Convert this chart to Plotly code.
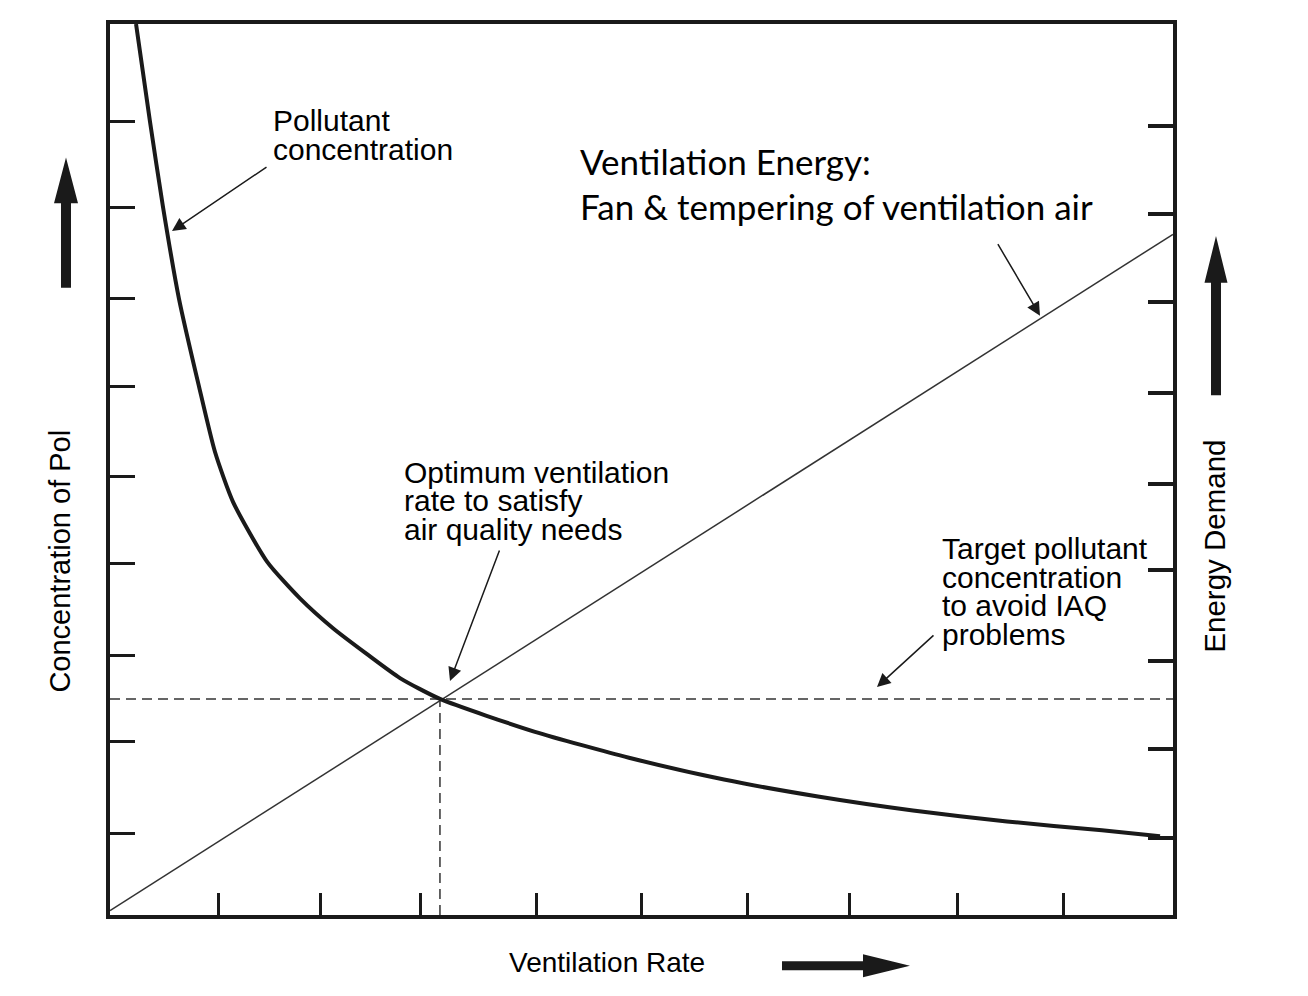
import plotly.graph_objects as go

# curve values (x: ventilation rate, y: level), axes run 0..10
pollutant_x = [0.245, 0.376, 0.499, 0.649, 0.837, 0.988, 1.157, 1.477, 1.787, 2.098, 2.418,
               2.728, 3.104, 3.998, 4.882, 5.776, 6.660, 7.554, 8.438, 9.332, 9.878]
pollutant_y = [10.0, 8.905, 7.944, 6.916, 5.933, 5.196, 4.637, 3.966, 3.553, 3.218, 2.927,
               2.659, 2.425, 2.056, 1.765, 1.520, 1.330, 1.173, 1.050, 0.950, 0.883]
energy_x = [0.0, 10.0]
energy_y = [0.05, 7.64]
optimum_x = 3.104
target_y = 2.425

bottom_ticks = [1.02, 1.98, 2.92, 4.01, 5.0, 6.0, 6.96, 7.97, 8.97]
left_ticks = [0.916, 1.944, 2.916, 3.944, 4.916, 5.933, 6.916, 7.944, 8.905]
right_ticks = [0.86, 1.866, 2.849, 3.877, 4.838, 5.855, 6.883, 7.866, 8.86]

# page coords of the plot frame; the html body adds an 8px offset
OFF = 8
W, H = 1292, 980
L, R, T, B = 110, 1173, 20, 915
INK = "#1a1a1a"
FONT = "Liberation Sans, Arial, sans-serif"


def px(x):
    return (x - L) / (R - L)


def py(y):
    return (B - y) / (B - T)


fig = go.Figure()

fig.add_trace(go.Scatter(x=energy_x, y=energy_y, mode="lines",
                         line=dict(color="#333333", width=1.5), hoverinfo="skip"))
fig.add_trace(go.Scatter(x=[0, 10], y=[target_y, target_y], mode="lines",
                         line=dict(color="#333333", width=1.5, dash="10px,6px"), hoverinfo="skip"))
fig.add_trace(go.Scatter(x=[optimum_x, optimum_x], y=[0, target_y], mode="lines",
                         line=dict(color="#333333", width=1.5, dash="10px,6px"), hoverinfo="skip"))
fig.add_trace(go.Scatter(x=pollutant_x, y=pollutant_y, mode="lines",
                         line=dict(color=INK, width=4, shape="spline", smoothing=0.6),
                         hoverinfo="skip"))
# dummy trace so the right axis is drawn
fig.add_trace(go.Scatter(x=[0], y=[0], yaxis="y2", mode="markers",
                         marker=dict(opacity=0), hoverinfo="skip"))

# text labels, one per line to keep the tight leading of the original
labels = [
    ("Pollutant", 271, 117, 30, FONT),
    ("concentration", 271, 146, 30, FONT),
    ("Optimum ventilation", 402, 471, 30, FONT),
    ("rate to satisfy", 402, 499, 30, FONT),
    ("air quality needs", 402, 528, 30, FONT),
    ("Target pollutant", 940, 547, 30, FONT),
    ("concentration", 940, 576, 30, FONT),
    ("to avoid IAQ", 940, 604, 30, FONT),
    ("problems", 940, 633, 30, FONT),
    ("Ventilation Energy:", 578, 158, 35, "Lato, sans-serif"),
    ("Fan &amp; tempering of ventilation air", 578, 203, 35, "Lato, sans-serif"),
]
for txt, x, y, size, fam in labels:
    fig.add_annotation(text=txt, x=px(x), y=py(y), xref="paper", yref="paper",
                       xanchor="left", yanchor="middle", showarrow=False,
                       font=dict(family=fam, size=size, color="black"))

fig.add_annotation(text="Ventilation Rate", x=px(607), y=py(963), xref="paper", yref="paper",
                   xanchor="center", yanchor="middle", showarrow=False,
                   font=dict(family=FONT, size=28, color="black"))
fig.add_annotation(text="Concentration of Pol", x=px(60), y=py(560), xref="paper", yref="paper",
                   xanchor="center", yanchor="middle", showarrow=False, textangle=-90,
                   font=dict(family=FONT, size=29, color="black"))
fig.add_annotation(text="Energy Demand", x=px(1215), y=py(545), xref="paper", yref="paper",
                   xanchor="center", yanchor="middle", showarrow=False, textangle=-90,
                   font=dict(family=FONT, size=29.5, color="black"))

# thin pointer arrows: (tail_x, tail_y, head_x, head_y) in pixels
pointers = [(268, 163, 172, 228), (997, 240, 1040, 313), (500, 548, 450, 680), (935, 633, 877, 686)]
for tx, ty, hx, hy in pointers:
    fig.add_annotation(text="", x=px(hx), y=py(hy), xref="paper", yref="paper",
                       ax=tx - hx, ay=ty - hy, showarrow=True, arrowhead=2,
                       arrowsize=1.8, arrowwidth=1.5, arrowcolor=INK)


def block_arrow(x0, y0, x1, y1, shaft=10, head_w=24, head_l=46):
    # polygon of a solid arrow from (x0,y0) to tip (x1,y1), pixel coords
    dx, dy = x1 - x0, y1 - y0
    n = (dx * dx + dy * dy) ** 0.5
    ux, uy = dx / n, dy / n
    vx, vy = -uy, ux
    bx, by = x1 - ux * head_l, y1 - uy * head_l
    pts = [
        (x0 + vx * shaft / 2, y0 + vy * shaft / 2),
        (bx + vx * shaft / 2, by + vy * shaft / 2),
        (bx + vx * head_w / 2, by + vy * head_w / 2),
        (x1, y1),
        (bx - vx * head_w / 2, by - vy * head_w / 2),
        (bx - vx * shaft / 2, by - vy * shaft / 2),
        (x0 - vx * shaft / 2, y0 - vy * shaft / 2),
    ]
    path = "M " + " L ".join(f"{px(a):.5f},{py(b):.5f}" for a, b in pts) + " Z"
    return dict(type="path", path=path, xref="paper", yref="paper",
                fillcolor=INK, line=dict(width=0), layer="above")


fig.add_shape(block_arrow(66, 285, 66, 154))
fig.add_shape(block_arrow(1216, 393, 1216, 233, head_w=23, head_l=47))
fig.add_shape(block_arrow(782, 966, 910, 966, shaft=9, head_w=23, head_l=47))

fig.update_layout(
    width=W, height=H,
    margin=dict(l=L - OFF, r=W - (R - OFF), t=T - OFF, b=H - (B - OFF)),
    paper_bgcolor="white", plot_bgcolor="white",
    showlegend=False,
    xaxis=dict(range=[0, 10], showgrid=False, zeroline=False, showticklabels=False,
               tickvals=bottom_ticks, ticks="inside", ticklen=22, tickwidth=3, tickcolor=INK,
               showline=True, linewidth=4, linecolor=INK, mirror=True),
    yaxis=dict(range=[0, 10], showgrid=False, zeroline=False, showticklabels=False,
               tickvals=left_ticks, ticks="inside", ticklen=25, tickwidth=3, tickcolor=INK,
               showline=True, linewidth=4, linecolor=INK),
    yaxis2=dict(range=[0, 10], overlaying="y", side="right", showgrid=False, zeroline=False,
                showticklabels=False, tickvals=right_ticks, ticks="inside", ticklen=25,
                tickwidth=4, tickcolor=INK, showline=True, linewidth=3.5, linecolor=INK),
)

fig.write_html("out.html")
